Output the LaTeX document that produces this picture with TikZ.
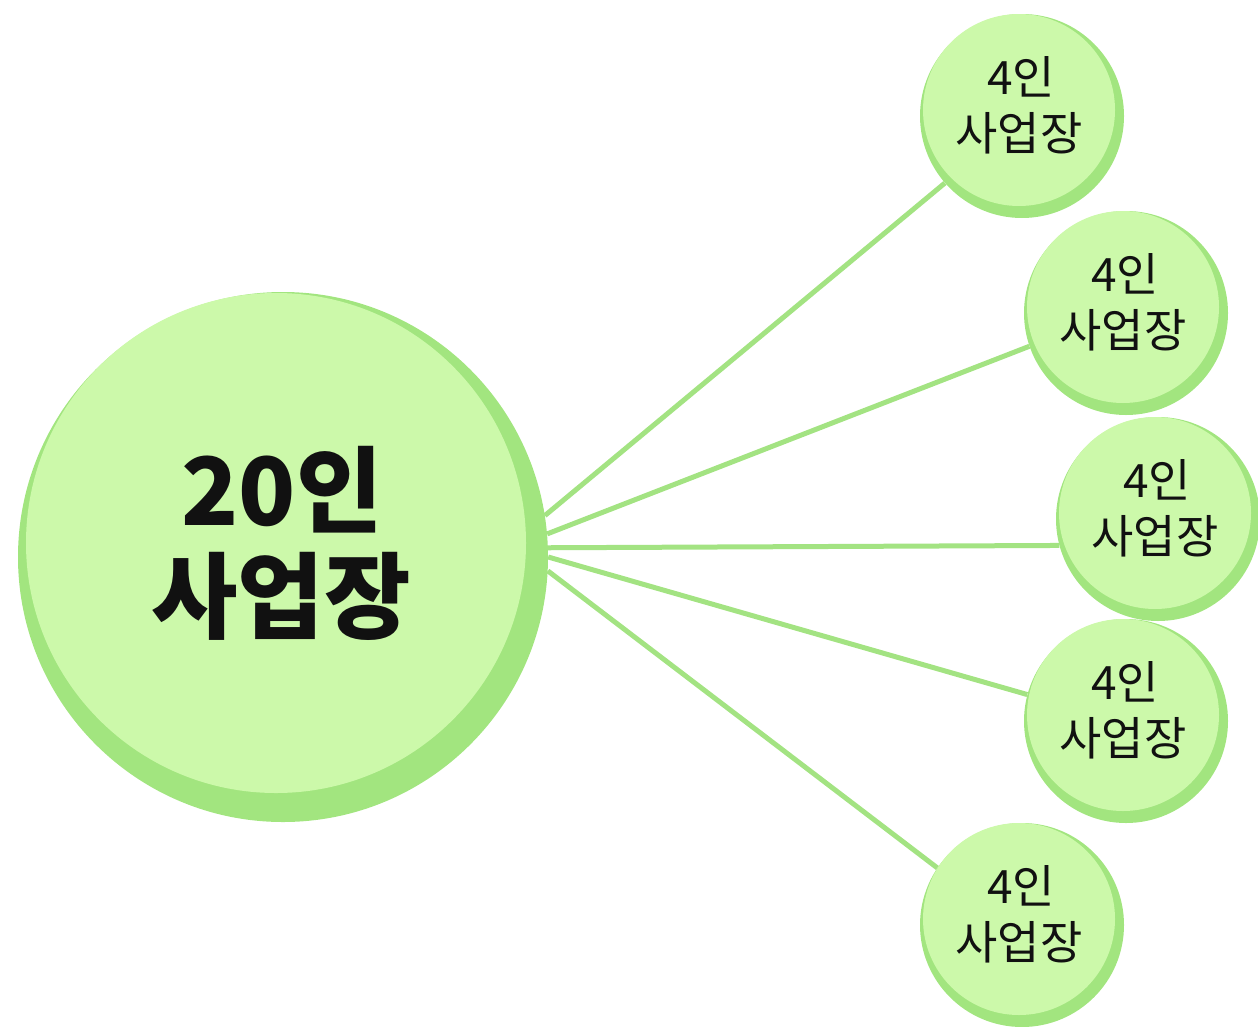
\documentclass[tikz,border=0pt]{standalone}
\usepackage{fontspec}
\newfontfamily\kr{Noto Sans CJK KR}
\usetikzlibrary{backgrounds}
\definecolor{lightg}{HTML}{CCF9AA}
\definecolor{darkg}{HTML}{A2E57F}
\definecolor{lineg}{HTML}{A3E382}
\definecolor{txt}{HTML}{111111}
\tikzset{
  rim/.style={circle, fill=darkg, draw=none, inner sep=0pt},
  face/.style={circle, fill=lightg, draw=none, inner sep=0pt, align=center, text=txt},
  bigrim/.style={rim, minimum size=530pt},
  bigface/.style={face, minimum size=500pt, font=\kr\bfseries\fontsize{94}{106}\selectfont},
  smallrim/.style={rim, minimum size=204pt},
  smallface/.style={face, minimum size=192pt, font=\kr\fontsize{46}{56}\selectfont},
  link/.style={draw=lineg, line width=5pt}
}
\begin{document}
\begin{tikzpicture}[x=1pt,y=-1pt]
\useasboundingbox (0,0) rectangle (1258,1026);
% big circle
\node[bigrim] (bigr) at (283,557) {};
\node[bigface] (big) at (276,543) {\hspace*{12pt}20인\\\hspace*{10pt}사업장};
% small circles
\node[smallrim] (r1) at (1022,116) {};
\node[smallface] (s1) at (1019,110) {\hspace*{4pt}4인\\사업장\raisebox{-14pt}{}};
\node[smallrim] (r2) at (1126,313) {};
\node[smallface] (s2) at (1123,307) {\hspace*{4pt}4인\\사업장\raisebox{-14pt}{}};
\node[smallrim] (r3) at (1158,519) {};
\node[smallface] (s3) at (1155,513) {\hspace*{4pt}4인\\사업장\raisebox{-14pt}{}};
\node[smallrim] (r4) at (1126,721) {};
\node[smallface] (s4) at (1123,715) {\hspace*{4pt}4인\\사업장\raisebox{-14pt}{}};
\node[smallrim] (r5) at (1022,925) {};
\node[smallface] (s5) at (1019,919) {\hspace*{4pt}4인\\사업장\raisebox{-14pt}{}};
% connectors
\begin{scope}[on background layer]
\draw[link] (bigr.9.6) -- (r1.221.9);
\draw[link] (bigr.5.2) -- (r2.199);
\draw[link] (bigr.2.4) -- (r3.195.5);
\draw[link] (bigr.0) -- (r4.165);
\draw[link] (bigr.-3.9) -- (r5.146.8);
\end{scope}
\end{tikzpicture}
\end{document}
